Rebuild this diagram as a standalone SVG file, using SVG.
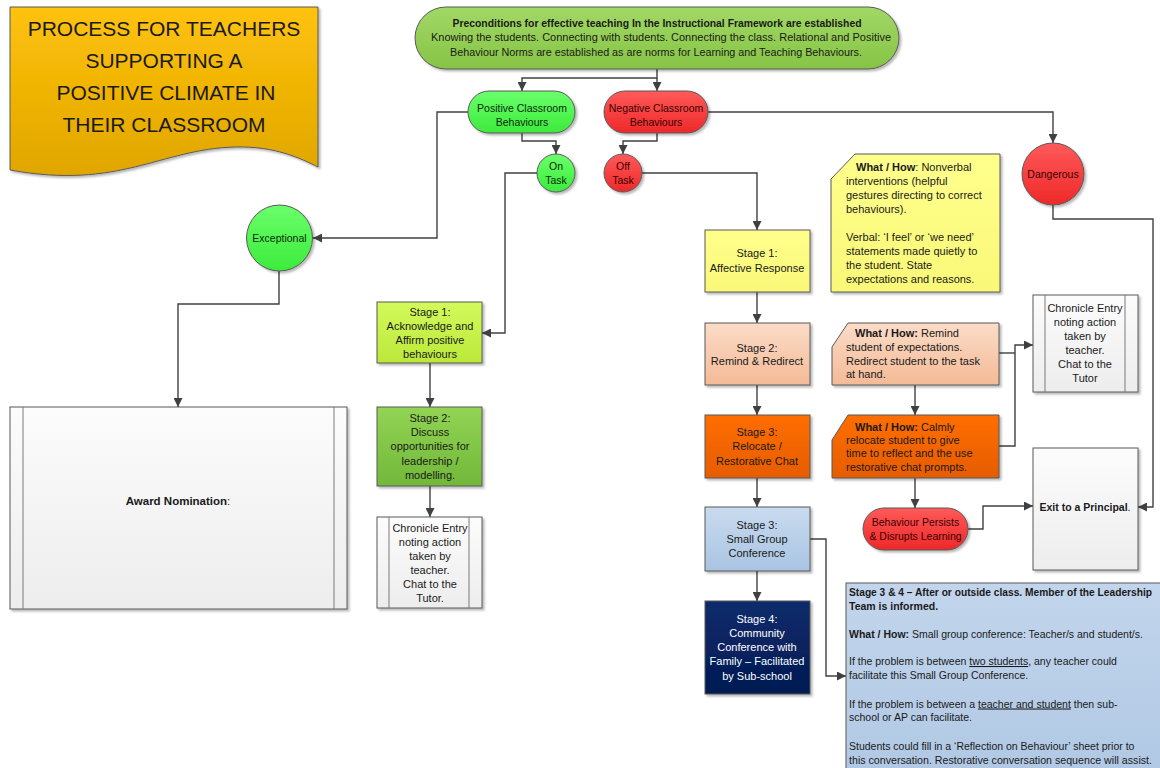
<svg xmlns="http://www.w3.org/2000/svg" width="1160" height="768" viewBox="0 0 1160 768">
<defs>
<style>
text{font-family:"Liberation Sans",Arial,sans-serif;fill:#1a1a1a;}
.t11{font-size:11px;text-anchor:middle;}
.n11{font-size:11px;}
.pill{font-size:10.5px;text-anchor:middle;}
.b{font-weight:bold;}
.shp{stroke:#595959;stroke-width:1;filter:url(#sh);}
.con{fill:none;stroke:#404040;stroke-width:1.4;}
.arr{marker-end:url(#ah);}
.red{fill:#3a0000;}
.grn{fill:#0b2a0b;}
.note{font-size:10.5px;}
</style>
<filter id="sh" x="-10%" y="-10%" width="130%" height="130%">
<feDropShadow dx="2" dy="2" stdDeviation="1.2" flood-color="#000" flood-opacity="0.28"/>
</filter>
<marker id="ah" viewBox="0 0 10 10" refX="10" refY="5" markerWidth="10" markerHeight="9" orient="auto" markerUnits="userSpaceOnUse">
<path d="M0,0 L10,5 L0,10 z" fill="#404040"/>
</marker>
<linearGradient id="gTitle" x1="0" y1="0" x2="0" y2="1"><stop offset="0" stop-color="#FFC20A"/><stop offset="1" stop-color="#E0A600"/></linearGradient>
<linearGradient id="gTop" x1="0" y1="0" x2="0" y2="1"><stop offset="0" stop-color="#A2D866"/><stop offset="1" stop-color="#86C445"/></linearGradient>
<linearGradient id="gGreen" x1="0" y1="0" x2="0" y2="1"><stop offset="0" stop-color="#6BFF6B"/><stop offset="1" stop-color="#3CEB3C"/></linearGradient>
<linearGradient id="gRed" x1="0" y1="0" x2="0" y2="1"><stop offset="0" stop-color="#FF5A5A"/><stop offset="1" stop-color="#EE2828"/></linearGradient>
<linearGradient id="gLime" x1="0" y1="0" x2="0" y2="1"><stop offset="0" stop-color="#D2FA5C"/><stop offset="1" stop-color="#BCE83A"/></linearGradient>
<linearGradient id="gMid" x1="0" y1="0" x2="0" y2="1"><stop offset="0" stop-color="#92D454"/><stop offset="1" stop-color="#72B83A"/></linearGradient>
<linearGradient id="gYel" x1="0" y1="0" x2="0" y2="1"><stop offset="0" stop-color="#FFFF8C"/><stop offset="1" stop-color="#F9F878"/></linearGradient>
<linearGradient id="gPeach" x1="0" y1="0" x2="0" y2="1"><stop offset="0" stop-color="#FBDCC8"/><stop offset="1" stop-color="#F4BA96"/></linearGradient>
<linearGradient id="gOr" x1="0" y1="0" x2="0" y2="1"><stop offset="0" stop-color="#FF6E00"/><stop offset="1" stop-color="#E65C00"/></linearGradient>
<linearGradient id="gBlue" x1="0" y1="0" x2="0" y2="1"><stop offset="0" stop-color="#C9DBEF"/><stop offset="1" stop-color="#A9C4E2"/></linearGradient>
<linearGradient id="gNavy" x1="0" y1="0" x2="0" y2="1"><stop offset="0" stop-color="#102C6C"/><stop offset="1" stop-color="#001A52"/></linearGradient>
<linearGradient id="gGray" x1="0" y1="0" x2="0" y2="1"><stop offset="0" stop-color="#FCFCFC"/><stop offset="1" stop-color="#EDEDED"/></linearGradient>
<linearGradient id="gNote" x1="0" y1="0" x2="0" y2="1"><stop offset="0" stop-color="#C2D5EC"/><stop offset="1" stop-color="#B0C8E4"/></linearGradient>
</defs>
<rect width="1160" height="768" fill="#fff"/>

<g id="connectors">
<path class="con arr" d="M657,69 V78 H522 V91"/>
<path class="con arr" d="M657,78 V91"/>
<path class="con arr" d="M522,133 V141 H556 V154"/>
<path class="con arr" d="M657,133 V141 H623 V154"/>
<path class="con arr" d="M468,112 H437 V238 H313"/>
<path class="con arr" d="M279,271 V304 H178 V407"/>
<path class="con arr" d="M537,173 H505 V333 H482"/>
<path class="con arr" d="M430,363 V407"/>
<path class="con arr" d="M430,486 V517"/>
<path class="con arr" d="M642,173 H757 V230"/>
<path class="con arr" d="M708,112 H1053 V143"/>
<path class="con arr" d="M1053,205 V219 H1153 V507 H1138"/>
<path class="con arr" d="M757,292 V323"/>
<path class="con arr" d="M757,385 V415"/>
<path class="con arr" d="M757,478 V507"/>
<path class="con arr" d="M757,571 V601"/>
<path class="con arr" d="M810,539 H826 V676 H846"/>
<path class="con arr" d="M915,385 V415"/>
<path class="con arr" d="M999,446 H1015 V345 H1033"/>
<path class="con" d="M999,353 H1015"/>
<path class="con arr" d="M915,478 V508"/>
<path class="con arr" d="M968,529 H983 V506 H1033"/>
</g>

<g id="title">
<path class="shp" d="M10,7 H318 V167 C300,158 275,146 235,147 C160,149 120,190 10,170 Z" fill="url(#gTitle)" stroke="#7f7f7f"/>
<text x="164" y="36" font-size="21" text-anchor="middle">PROCESS FOR TEACHERS</text>
<text x="164" y="68" font-size="21" text-anchor="middle">SUPPORTING A</text>
<text x="166" y="100" font-size="21" text-anchor="middle">POSITIVE CLIMATE IN</text>
<text x="164" y="132" font-size="21" text-anchor="middle">THEIR CLASSROOM</text>
</g>

<g id="preconditions">
<rect class="shp" x="415" y="7" width="484" height="62" rx="31" fill="url(#gTop)"/>
<text x="657" y="27" font-size="10" text-anchor="middle" class="b" textLength="409" lengthAdjust="spacingAndGlyphs">Preconditions for effective teaching In the Instructional Framework are established</text>
<text x="661" y="41" font-size="10" text-anchor="middle" textLength="460" lengthAdjust="spacingAndGlyphs">Knowing the students. Connecting with students. Connecting the class. Relational and Positive</text>
<text x="656" y="56" font-size="10" text-anchor="middle" textLength="412" lengthAdjust="spacingAndGlyphs">Behaviour Norms are established as are norms for Learning and Teaching Behaviours.</text>
</g>

<g id="positive">
<rect class="shp" x="468" y="91" width="107" height="42" rx="21" fill="url(#gGreen)"/>
<text class="pill grn" x="522" y="112">Positive Classroom</text>
<text class="pill grn" x="522" y="126">Behaviours</text>
</g>

<g id="negative">
<rect class="shp" x="604" y="91" width="104" height="42" rx="21" fill="url(#gRed)"/>
<text class="pill red" x="656" y="112">Negative Classroom</text>
<text class="pill red" x="656" y="126">Behaviours</text>
</g>

<g id="ontask">
<circle class="shp" cx="556" cy="173" r="19" fill="url(#gGreen)"/>
<text class="pill grn" x="556" y="170">On</text>
<text class="pill grn" x="556" y="184">Task</text>
</g>

<g id="offtask">
<circle class="shp" cx="623" cy="173" r="19" fill="url(#gRed)"/>
<text class="pill red" x="623" y="170">Off</text>
<text class="pill red" x="623" y="184">Task</text>
</g>

<g id="exceptional">
<circle class="shp" cx="279.5" cy="238" r="33" fill="url(#gGreen)"/>
<text class="pill grn" x="279.5" y="242">Exceptional</text>
</g>

<g id="dangerous">
<circle class="shp" cx="1053" cy="174" r="31" fill="url(#gRed)"/>
<text class="pill red" x="1053" y="178">Dangerous</text>
</g>

<g id="award">
<rect class="shp" x="10" y="407" width="337" height="202" fill="url(#gGray)" stroke="#7a7a7a"/>
<path d="M23,407 V609 M334,407 V609" stroke="#7a7a7a" stroke-width="1" fill="none"/>
<text x="178" y="505" font-size="11.5" text-anchor="middle"><tspan class="b">Award Nomination</tspan>:</text>
</g>

<g id="stage1-left">
<rect class="shp" x="377" y="302" width="105" height="61" fill="url(#gLime)"/>
<text class="t11" x="430" y="316">Stage 1:</text>
<text class="t11" x="430" y="330">Acknowledge and</text>
<text class="t11" x="430" y="344">Affirm positive</text>
<text class="t11" x="430" y="358">behaviours</text>
</g>

<g id="stage2-left">
<rect class="shp" x="377" y="407" width="105" height="79" fill="url(#gMid)"/>
<text class="t11" x="430" y="422">Stage 2:</text>
<text class="t11" x="430" y="436">Discuss</text>
<text class="t11" x="430" y="450">opportunities for</text>
<text class="t11" x="430" y="465">leadership /</text>
<text class="t11" x="430" y="479">modelling.</text>
</g>

<g id="chronicle-left">
<rect class="shp" x="377" y="517" width="105" height="91" fill="url(#gGray)" stroke="#7a7a7a"/>
<path d="M389,517 V608 M469,517 V608" stroke="#7a7a7a" stroke-width="1" fill="none"/>
<text class="t11" x="430" y="532">Chronicle Entry</text>
<text class="t11" x="430" y="546">noting action</text>
<text class="t11" x="430" y="560">taken by</text>
<text class="t11" x="430" y="574">teacher.</text>
<text class="t11" x="430" y="588">Chat to the</text>
<text class="t11" x="430" y="602">Tutor.</text>
</g>

<g id="stage1-right">
<rect class="shp" x="705" y="230" width="105" height="62" fill="url(#gYel)"/>
<text class="t11" x="757" y="257">Stage 1:</text>
<text class="t11" x="757" y="272">Affective Response</text>
</g>

<g id="stage2-right">
<rect class="shp" x="705" y="323" width="105" height="62" fill="url(#gPeach)"/>
<text class="t11" x="757" y="352">Stage 2:</text>
<text class="t11" x="757" y="365">Remind &amp; Redirect</text>
</g>

<g id="stage3-relocate">
<rect class="shp" x="705" y="415" width="105" height="63" fill="url(#gOr)"/>
<text class="t11" x="757" y="436">Stage 3:</text>
<text class="t11" x="757" y="450">Relocate /</text>
<text class="t11" x="757" y="465">Restorative Chat</text>
</g>

<g id="stage3-conference">
<rect class="shp" x="705" y="507" width="105" height="64" fill="url(#gBlue)"/>
<text class="t11" x="757" y="529">Stage 3:</text>
<text class="t11" x="757" y="543">Small Group</text>
<text class="t11" x="757" y="557">Conference</text>
</g>

<g id="stage4">
<rect class="shp" x="705" y="601" width="105" height="93" fill="url(#gNavy)"/>
<text class="t11" x="757" y="623" style="fill:#fff">Stage 4:</text>
<text class="t11" x="757" y="637" style="fill:#fff">Community</text>
<text class="t11" x="757" y="651" style="fill:#fff">Conference with</text>
<text class="t11" x="757" y="665" style="fill:#fff">Family – Facilitated</text>
<text class="t11" x="757" y="680" style="fill:#fff">by Sub-school</text>
</g>

<g id="note-stage1">
<path class="shp" d="M855,154 H1000 V292 H831 V179 Z" fill="url(#gYel)"/>
<text class="n11" x="856" y="171"><tspan class="b">What / How</tspan>: Nonverbal</text>
<text class="n11" x="846" y="185">interventions (helpful</text>
<text class="n11" x="846" y="199">gestures directing to correct</text>
<text class="n11" x="846" y="213">behaviours).</text>
<text class="n11" x="846" y="241">Verbal: ‘I feel’ or ‘we need’</text>
<text class="n11" x="846" y="255">statements made quietly to</text>
<text class="n11" x="846" y="269">the student. State</text>
<text class="n11" x="846" y="283">expectations and reasons.</text>
</g>

<g id="note-stage2">
<path class="shp" d="M848,323 H999 V385 H832 V347 Z" fill="url(#gPeach)"/>
<text class="n11" x="855" y="337"><tspan class="b">What / How:</tspan> Remind</text>
<text class="n11" x="846" y="351">student of expectations.</text>
<text class="n11" x="846" y="365">Redirect student to the task</text>
<text class="n11" x="846" y="378">at hand.</text>
</g>

<g id="note-stage3">
<path class="shp" d="M848,415 H999 V478 H832 V440 Z" fill="url(#gOr)"/>
<text class="n11" x="855" y="431"><tspan class="b">What / How:</tspan> Calmly</text>
<text class="n11" x="846" y="444">relocate student to give</text>
<text class="n11" x="846" y="457">time to reflect and the use</text>
<text class="n11" x="846" y="471">restorative chat prompts.</text>
</g>

<g id="chronicle-right">
<rect class="shp" x="1033" y="295" width="105" height="97" fill="url(#gGray)" stroke="#7a7a7a"/>
<path d="M1045,295 V392 M1125,295 V392" stroke="#7a7a7a" stroke-width="1" fill="none"/>
<text class="t11" x="1085" y="312">Chronicle Entry</text>
<text class="t11" x="1085" y="326">noting action</text>
<text class="t11" x="1085" y="340">taken by</text>
<text class="t11" x="1085" y="354">teacher.</text>
<text class="t11" x="1085" y="368">Chat to the</text>
<text class="t11" x="1085" y="382">Tutor</text>
</g>

<g id="exit-principal">
<rect class="shp" x="1033" y="448" width="105" height="122" fill="url(#gGray)" stroke="#7a7a7a"/>
<text x="1085" y="511" font-size="10.5" text-anchor="middle"><tspan class="b">Exit to a Principal</tspan>.</text>
</g>

<g id="behaviour-persists">
<rect class="shp" x="863" y="508" width="105" height="42" rx="21" fill="url(#gRed)"/>
<text class="pill red" x="915.5" y="526">Behaviour Persists</text>
<text class="pill red" x="915.5" y="540">&amp; Disrupts Learning</text>
</g>

<g id="note-stage34">
<rect class="shp" x="846" y="583" width="330" height="200" fill="url(#gNote)"/>
<text class="note b" x="849" y="596" textLength="303" lengthAdjust="spacingAndGlyphs">Stage 3 &amp; 4 – After or outside class. Member of the Leadership</text>
<text class="note b" x="849" y="610">Team is informed.</text>
<text class="note" x="849" y="637.5"><tspan class="b">What / How:</tspan> Small group conference: Teacher/s and student/s.</text>
<text class="note" x="849" y="665">If the problem is between <tspan text-decoration="underline">two students</tspan>, any teacher could</text>
<text class="note" x="849" y="678.5">facilitate this Small Group Conference.</text>
<text class="note" x="849" y="707.5">If the problem is between a <tspan text-decoration="underline">teacher and student</tspan> then sub-</text>
<text class="note" x="849" y="721">school or AP can facilitate.</text>
<text class="note" x="849" y="749.5">Students could fill in a ‘Reflection on Behaviour’ sheet prior to</text>
<text class="note" x="849" y="763.5" textLength="303" lengthAdjust="spacingAndGlyphs">this conversation. Restorative conversation sequence will assist.</text>
</g>
</svg>
